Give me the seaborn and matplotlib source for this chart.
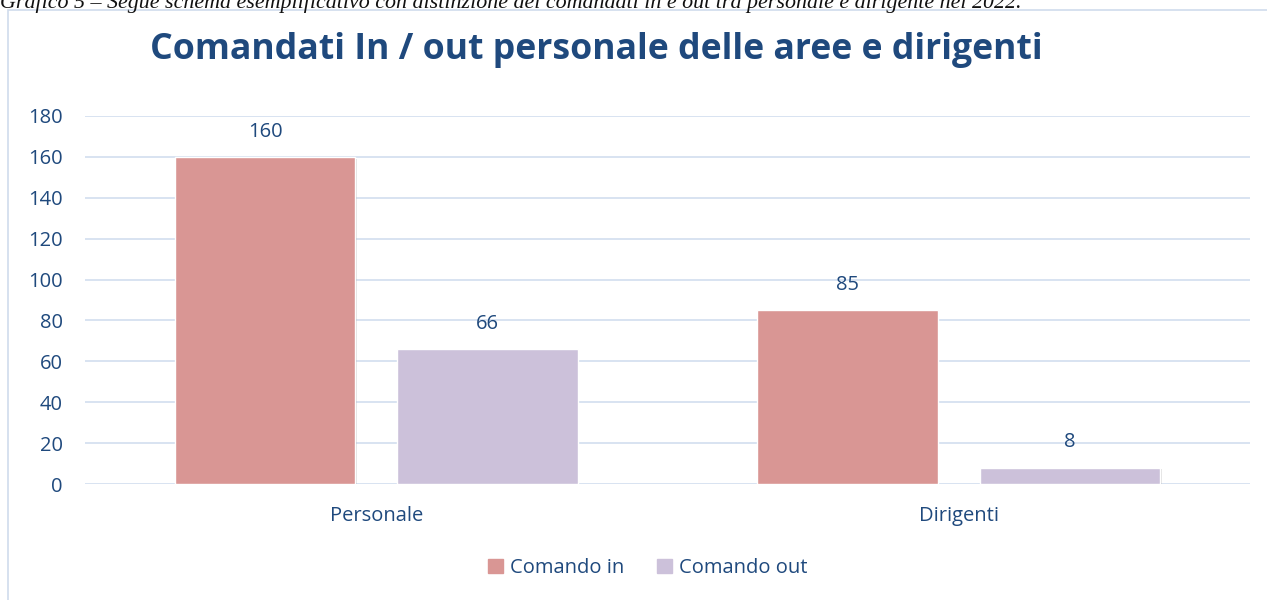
import matplotlib
matplotlib.use("Agg")
import matplotlib.pyplot as plt
import matplotlib.patches as mpatches
import matplotlib.patheffects as pe
import seaborn as sns
import pandas as pd

categories = ["Personale", "Dirigenti"]
series = ["Comando in", "Comando out"]
comando_in = [160, 85]
comando_out = [66, 8]
y_ticks = [0, 20, 40, 60, 80, 100, 120, 140, 160, 180]

title = "Comandati In / out personale delle aree e dirigenti"
caption = "Grafico 5 – Segue schema esemplificativo con distinzione dei comandati in e out tra personale e dirigente nel 2022."

colors = {"Comando in": "#D99694", "Comando out": "#CCC1DA"}
text_color = "#1F497D"
grid_color = "#D6E0F0"

df = pd.DataFrame({
    "categoria": categories * 2,
    "serie": [series[0]] * len(categories) + [series[1]] * len(categories),
    "valore": comando_in + comando_out,
})

sns.set_theme(style="white")
plt.rcParams["font.family"] = ["Open Sans", "DejaVu Sans"]

fig = plt.figure(figsize=(12.67, 6.0), dpi=100)
ax = fig.add_axes([85 / 1267, 1 - 484 / 600, (1250 - 85) / 1267, (484 - 116) / 600])

sns.barplot(data=df, x="categoria", y="valore", hue="serie", order=categories,
            hue_order=series, palette=colors, width=0.764, gap=0.19,
            ax=ax, legend=False, saturation=1)

for p in ax.patches:
    p.set_path_effects([pe.SimplePatchShadow(offset=(1.2, -1.2), shadow_rgbFace="#888888", alpha=0.25),
                        pe.Normal()])

ax.set_xlim(-0.5, 1.5)
ax.set_ylim(0, 180)
ax.set_yticks(y_ticks)
ax.set_yticklabels([str(t) for t in y_ticks], fontsize=14.5, color=text_color)
ax.tick_params(axis="x", labelsize=14.5, labelcolor=text_color, length=0, pad=16)
ax.tick_params(axis="y", length=0, pad=16)
ax.set_xlabel("")
ax.set_ylabel("")
for s in ax.spines.values():
    s.set_visible(False)
ax.grid(axis="y", color=grid_color, linewidth=1.3)
ax.set_axisbelow(True)

for cont in ax.containers:
    ax.bar_label(cont, fmt="%d", padding=11, fontsize=14.5, color=text_color)

# Title
fig.text(596.5 / 1267, 1 - 50 / 600, title, ha="center", va="center", fontsize=25.7,
         fontweight="bold", color=text_color)

# Legend
handles = [mpatches.Patch(color=colors[s], label=s) for s in series]
fig.legend(handles=handles, loc="center", bbox_to_anchor=(0.5114, 1 - 568 / 600),
           ncol=2, frameon=False, fontsize=14.5, handlelength=0.75, handleheight=0.75,
           handletextpad=0.35, columnspacing=1.6, labelcolor=text_color)

# Chart border
fig.add_artist(mpatches.Rectangle((8 / 1267, -0.01), 1.1, 1 - 10 / 600 + 0.01,
                                  transform=fig.transFigure, fill=False,
                                  edgecolor="#D0DCEC", linewidth=1.2))

# Caption at the very top (cropped in the reference)
fig.text(0.0, 1 - 8 / 600, caption, ha="left", va="baseline", fontsize=15.8,
         style="italic", family=["Liberation Serif", "DejaVu Serif"], color="#111111")

fig.savefig("out.png", dpi=100)
